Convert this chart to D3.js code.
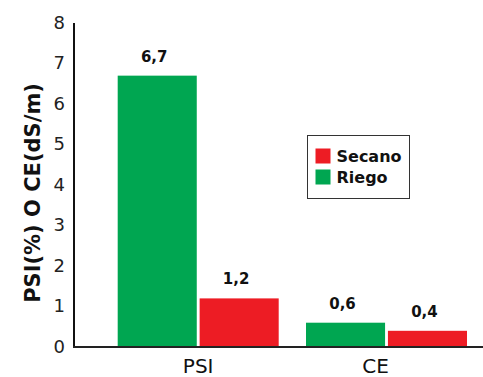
<!DOCTYPE html>
<html>
<head>
<meta charset="utf-8">
<script src="https://cdn.jsdelivr.net/npm/d3@7"></script>
<style>
  html, body { margin: 0; padding: 0; background: #fff; }
  svg { display: block; }
</style>
</head>
<body>
<svg id="chart" width="483" height="377"></svg>
<script>
// ---- data ----
const categories = ["PSI", "CE"];
const seriesNames = ["Riego", "Secano"];
const riegoValues = [6.7, 0.6];
const secanoValues = [1.2, 0.4];
const yTicks = [0, 1, 2, 3, 4, 5, 6, 7, 8];
const yTitle = "PSI(%) O CE(dS/m)";
const legendOrder = ["Secano", "Riego"];

const colors = { Riego: "#00a651", Secano: "#ed1c24" };

const svg = d3.select("#chart");
const W = 483, H = 377;
const m = { left: 74, top: 23, bottom: 30 };
const baseY = 347;

const x = d3.scaleBand()
  .domain(categories)
  .range([m.left, W])
  .paddingInner(0.145)
  .paddingOuter(0.1585)
  .align(0.732);

const xs = d3.scaleBand()
  .domain(seriesNames)
  .range([0, x.bandwidth()])
  .paddingInner(0.035);

const y = d3.scaleLinear().domain([0, 8]).range([baseY, m.top]);

const table = categories.map((c, i) => ({
  cat: c,
  vals: [
    { s: "Riego", v: riegoValues[i] },
    { s: "Secano", v: secanoValues[i] }
  ]
}));

const fmt = v => d3.format(".1f")(v).replace(".", ",");

// bars
const g = svg.append("g");
const groups = g.selectAll("g.grp").data(table).join("g")
  .attr("transform", d => `translate(${x(d.cat)},0)`);

groups.selectAll("rect").data(d => d.vals).join("rect")
  .attr("x", d => xs(d.s))
  .attr("width", xs.bandwidth())
  .attr("y", d => y(d.v))
  .attr("height", d => y(0) - y(d.v))
  .attr("fill", d => colors[d.s]);

groups.selectAll("text.val").data(d => d.vals).join("text")
  .attr("class", "val")
  .attr("x", d => xs(d.s) + xs.bandwidth() / 2 - 3)
  .attr("y", d => y(d.v) - 14)
  .attr("text-anchor", "middle")
  .attr("font-family", "DejaVu Sans")
  .attr("font-weight", "bold")
  .attr("font-size", 15)
  .attr("fill", "#111")
  .text(d => fmt(d.v));

// y axis
const yAxis = d3.axisLeft(y).tickValues(yTicks).tickSize(0).tickPadding(9)
  .tickFormat(d3.format("d"));
const ya = svg.append("g").attr("transform", `translate(${m.left},0)`).call(yAxis);
ya.select(".domain").remove();
ya.selectAll("text")
  .attr("font-family", "DejaVu Sans")
  .attr("font-size", 18)
  .attr("fill", "#222")
  .attr("dy", "0.3em");

svg.append("line")
  .attr("x1", m.left).attr("x2", m.left)
  .attr("y1", m.top).attr("y2", baseY + 1)
  .attr("stroke", "#111").attr("stroke-width", 2);

// x axis
const xAxis = d3.axisBottom(x).tickSize(0).tickPadding(12);
const xa = svg.append("g").attr("transform", `translate(0,${baseY})`).call(xAxis);
xa.select(".domain").remove();
xa.selectAll("text")
  .attr("font-family", "DejaVu Sans")
  .attr("font-size", 20)
  .attr("fill", "#111");
xa.selectAll(".tick").filter(d => d === "CE").select("text").attr("dx", -11);

svg.append("line")
  .attr("x1", m.left - 1).attr("x2", W)
  .attr("y1", baseY).attr("y2", baseY)
  .attr("stroke", "#222").attr("stroke-width", 2);

// y title
svg.append("text")
  .attr("transform", `translate(40,${(m.top + baseY) / 2 + 8}) rotate(-90)`)
  .attr("text-anchor", "middle")
  .attr("font-family", "DejaVu Sans")
  .attr("font-weight", "bold")
  .attr("font-size", 21)
  .attr("fill", "#111")
  .text(yTitle);

// legend
const lg = svg.append("g").attr("transform", "translate(307.5,135.5)");
lg.append("rect")
  .attr("width", 102).attr("height", 63)
  .attr("fill", "#fff").attr("stroke", "#333").attr("stroke-width", 1);
const items = lg.selectAll("g.item").data(legendOrder).join("g")
  .attr("transform", (d, i) => `translate(8,${13 + i * 21})`);
items.append("rect")
  .attr("width", 15).attr("height", 15)
  .attr("fill", d => colors[d]);
items.append("text")
  .attr("x", 21).attr("y", 13)
  .attr("font-family", "DejaVu Sans")
  .attr("font-weight", "bold")
  .attr("font-size", 16)
  .attr("fill", "#111")
  .text(d => d);
</script>
</body>
</html>
